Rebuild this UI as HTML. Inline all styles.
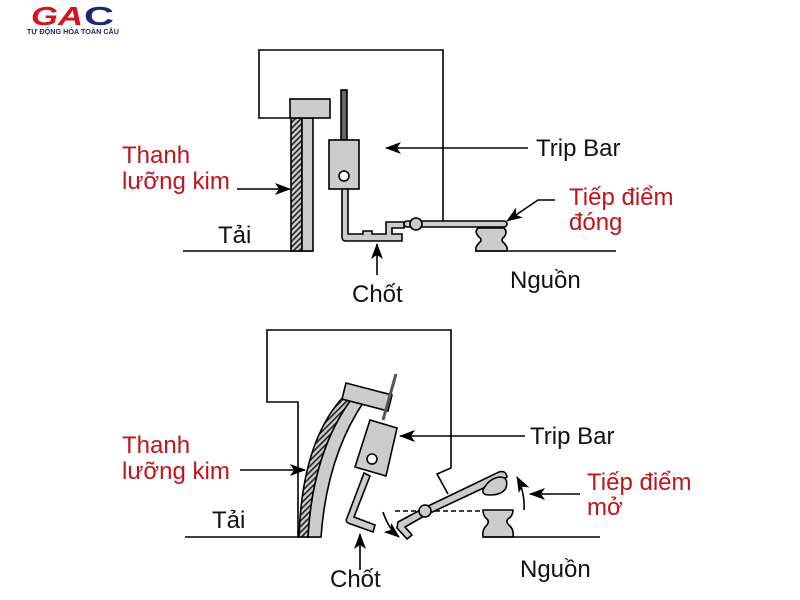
<!DOCTYPE html>
<html><head><meta charset="utf-8"><style>
html,body{margin:0;padding:0;background:#fff;}
svg{display:block;}
.t{font-family:"Liberation Sans",Arial,sans-serif;font-size:24px;}
.r{fill:#c0141c;}
.k{fill:#111;}
</style></head><body>
<svg width="800" height="600" viewBox="0 0 800 600" xmlns="http://www.w3.org/2000/svg">
<defs>
<pattern id="h" width="4" height="4" patternUnits="userSpaceOnUse" patternTransform="rotate(45)">
<rect width="4" height="4" fill="#ccc"/><rect width="1.6" height="4" fill="#222"/>
</pattern>
<marker id="a" markerWidth="16" markerHeight="12" refX="15" refY="6" orient="auto" markerUnits="userSpaceOnUse">
<path d="M0,0 L16,6 L0,12 L4,6 Z" fill="#000"/>
</marker>
</defs>
<text x="31" y="25" font-family="Liberation Sans,Arial,sans-serif" font-weight="bold" font-size="26" fill="#d7141d" font-style="italic" textLength="52" lengthAdjust="spacingAndGlyphs">GA</text>
<text x="84" y="25" font-family="Liberation Sans,Arial,sans-serif" font-weight="bold" font-size="26" fill="#1c2a6b" textLength="30" lengthAdjust="spacingAndGlyphs">C</text>
<text x="27" y="34" font-family="Liberation Sans,Arial,sans-serif" font-weight="bold" font-size="7" fill="#1c2a6b" textLength="92" lengthAdjust="spacingAndGlyphs">TỰ ĐỘNG HÓA TOÀN CẦU</text>

<g stroke="#000" stroke-width="1.6" fill="none">
<path d="M290,118 L259,118 L259,50 L443,50 L443,222"/>
<line x1="183" y1="251" x2="313" y2="251"/>
<rect x="291" y="118" width="11" height="133" fill="url(#h)"/>
<rect x="302" y="118" width="11" height="133" fill="#ccc"/>
<rect x="290" y="99" width="40" height="19" fill="#ccc"/>
<rect x="341" y="90" width="6" height="50" fill="#666"/>
<rect x="329" y="140" width="30" height="49" fill="#ccc"/>
<circle cx="344" cy="176" r="5" fill="#fff"/>
<path d="M342,189 L348,189 L348,234 L363,234 L363,231 L372,231 L372,234 L386,234 L386,222 L404,222 L404,228 L392,228 L392,234 L402,234 L402,241 L346,241 Q342,241 342,237 Z" fill="#ccc"/>
<rect x="404" y="221" width="103" height="6" rx="3" fill="#ccc"/>
<circle cx="416" cy="224" r="6" fill="#ccc"/>
<path d="M478,228 L504,228 Q508,232 504,237 Q500,240 504,243 Q508,247 507,251 L476,251 Q475,247 479,243 Q483,240 479,237 Q474,232 478,228 Z" fill="#ccc"/>
<line x1="475" y1="251" x2="616" y2="251"/>
<line x1="528" y1="148" x2="386" y2="148" marker-end="url(#a)"/>
<line x1="237" y1="189" x2="290" y2="189" marker-end="url(#a)"/>
<polyline points="555,200 538,200 507,221" marker-end="url(#a)"/>
<line x1="377" y1="275" x2="377" y2="244" marker-end="url(#a)"/>

<path d="M298,537 L298,402 L267,402 L267,330 L451,330 L451,468 L437,474 L448,494"/>
<line x1="185" y1="537" x2="320" y2="537"/>
<path d="M299,537 Q302,440 345,395 L353,397 Q313,450 308,537 Z" fill="url(#h)"/>
<path d="M308,537 Q313,450 353,397 L365,400 Q327,455 321,537 Z" fill="#ccc"/>
<path d="M346,383 L392,395 L388,411 L342,399 Z" fill="#ccc"/>
<line x1="396" y1="374" x2="383" y2="420" stroke="#555" stroke-width="3"/>
<path d="M370,420 L397,428 L386,476 L355,467 Z" fill="#ccc"/>
<circle cx="372" cy="459" r="5" fill="#fff"/>
<path d="M364,473 L370,476 L354,517 L375,525 L373,532 L348,523 Q345,521 347,518 Z" fill="#ccc"/>
<path d="M383,512 Q388,528 399,537" marker-end="url(#a)"/>
<line x1="395" y1="511" x2="513" y2="511" stroke-dasharray="5,3"/>
<path d="M398,522 L424,508 L499,472 Q506,470 507,477 L426,515 L405,527 L412,535 L407,539 L397,528 Z" fill="#ccc"/>
<circle cx="425" cy="511" r="6" fill="#ccc"/>
<path d="M484,488 Q490,478 500,477 Q509,477 506,488 Q502,495 490,495 Q480,495 484,488 Z" fill="#ccc"/>
<path d="M483,510 L513,510 Q513,516 508,519 Q505,522 510,526 Q514,530 513,537 L483,537 Q482,530 486,526 Q490,522 487,519 Q483,516 483,510 Z" fill="#ccc"/>
<line x1="483" y1="537" x2="600" y2="537"/>
<path d="M524,510 Q525,492 517,477" marker-end="url(#a)"/>
<line x1="525" y1="436" x2="400" y2="436" marker-end="url(#a)"/>
<line x1="580" y1="494" x2="530" y2="494" marker-end="url(#a)"/>
<line x1="240" y1="470" x2="305" y2="470" marker-end="url(#a)"/>
<line x1="360" y1="570" x2="360" y2="534" marker-end="url(#a)"/>
</g>

<text class="t r" x="122" y="163">Thanh</text>
<text class="t r" x="122" y="189">lưỡng kim</text>
<text class="t k" x="218" y="243">Tải</text>
<text class="t k" x="536" y="156">Trip Bar</text>
<text class="t r" x="569" y="205">Tiếp điểm</text>
<text class="t r" x="569" y="230">đóng</text>
<text class="t k" x="352" y="302">Chốt</text>
<text class="t k" x="510" y="288">Nguồn</text>

<text class="t r" x="122" y="453">Thanh</text>
<text class="t r" x="122" y="479">lưỡng kim</text>
<text class="t k" x="212" y="528">Tải</text>
<text class="t k" x="530" y="444">Trip Bar</text>
<text class="t r" x="587" y="490">Tiếp điểm</text>
<text class="t r" x="587" y="515">mở</text>
<text class="t k" x="330" y="587">Chốt</text>
<text class="t k" x="520" y="577">Nguồn</text>
</svg>
</body></html>
